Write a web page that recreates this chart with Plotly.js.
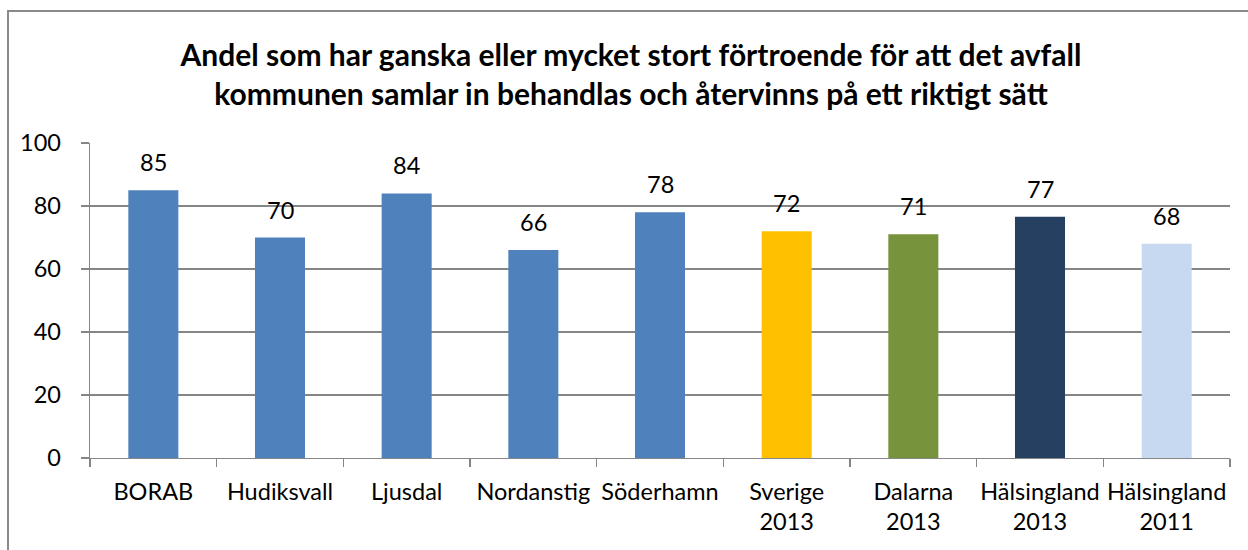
<!DOCTYPE html>
<html>
<head>
<meta charset="utf-8">
<script src="https://cdn.plot.ly/plotly-3.0.1.min.js"></script>
<style>
  html, body { margin: 0; padding: 0; background: #fff; }
  #wrap { position: relative; width: 1248px; height: 550px; overflow: hidden; }
  #frame { position: absolute; left: 7px; top: 10px; width: 1300px; height: 600px;
           border-left: 2px solid #8a8a8a; border-top: 2px solid #8a8a8a; pointer-events: none; }
  #chart { position: absolute; left: 0; top: 0; width: 1248px; height: 550px; }
</style>
</head>
<body>
<div id="wrap">
  <div id="chart"></div>
  <div id="frame"></div>
</div>
<script>
const categories = ["BORAB", "Hudiksvall", "Ljusdal", "Nordanstig", "Söderhamn",
                    "Sverige<br>2013", "Dalarna<br>2013", "Hälsingland<br>2013", "Hälsingland<br>2011"];
const values = [85, 70, 84, 66, 78, 72, 71, 76.6, 68];
const labels = ["85", "70", "84", "66", "78", "72", "71", "77", "68"];
const barColors = ["#4F81BD", "#4F81BD", "#4F81BD", "#4F81BD", "#4F81BD",
                   "#FFC000", "#77933C", "#254061", "#C6D9F1"];
const yTicks = [0, 20, 40, 60, 80, 100];
const titleText = "Andel som har ganska eller mycket stort förtroende för att det avfall<br>kommunen samlar in behandlas och återvinns på ett riktigt sätt";

const FONT = "Lato, 'Liberation Sans', sans-serif";
const gray = "#868686";

const trace = {
  type: "bar",
  x: categories,
  y: values,
  marker: { color: barColors, line: { width: 0 } },
  hoverinfo: "x+y"
};

const annotations = categories.map((c, i) => ({
  x: c, y: values[i], xref: "x", yref: "y",
  text: labels[i], showarrow: false,
  yanchor: "bottom", yshift: 12,
  font: { family: FONT, size: 23.5, color: "#000" }
}));

const layout = {
  width: 1248, height: 550,
  margin: { l: 90, r: 18, t: 143, b: 92 },
  paper_bgcolor: "#fff", plot_bgcolor: "#fff",
  showlegend: false,
  bargap: 0.605,
  title: {
    text: titleText,
    font: { family: FONT, size: 30, color: "#000", weight: "bold" },
    xref: "container", x: 0.5056, xanchor: "center",
    yref: "container", y: 1 - 66 / 550, yanchor: "top"
  },
  xaxis: {
    type: "category",
    showline: true, linecolor: gray, linewidth: 1.3,
    ticks: "outside", ticklen: 8, tickcolor: gray, tickwidth: 1.3,
    tickson: "boundaries",
    tickangle: 0,
    showgrid: false,
    ticklabelstandoff: 12,
    tickfont: { family: FONT, size: 23.5, color: "#000" }
  },
  yaxis: {
    range: [0, 100],
    tickvals: yTicks,
    showline: true, linecolor: gray, linewidth: 1.3,
    ticks: "outside", ticklen: 8, tickcolor: gray, tickwidth: 1.3,
    showgrid: true, gridcolor: gray, gridwidth: 1.3,
    zeroline: false,
    ticklabelstandoff: 15,
    tickfont: { family: FONT, size: 23.5, color: "#000" }
  },
  annotations: annotations
};

Plotly.newPlot("chart", [trace], layout, { displayModeBar: false, staticPlot: true });
</script>
</body>
</html>
